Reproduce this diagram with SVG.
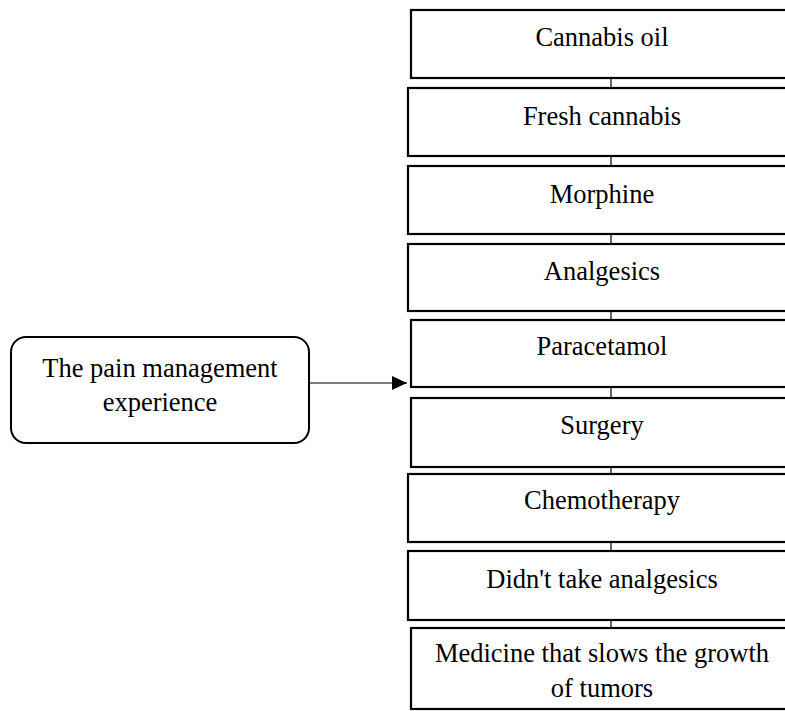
<svg xmlns="http://www.w3.org/2000/svg" width="785" height="711" viewBox="0 0 785 711">
  <defs>
    <style>
      .box { fill: #ffffff; stroke: #000000; stroke-width: 2.2; }
      .start { fill: #ffffff; stroke: #000000; stroke-width: 2; }
      .lbl { font-family: "Liberation Serif", "Times New Roman", serif; font-size: 26.5px; fill: #000000; text-anchor: middle; }
      .conn { stroke: #000000; stroke-width: 1.2; fill: none; }
    </style>
    <marker id="arrow" markerWidth="15" markerHeight="14" refX="15" refY="7" orient="auto" markerUnits="userSpaceOnUse">
      <path d="M0,0 L15,7 L0,14 Z" fill="#000000"/>
    </marker>
  </defs>
  <rect width="785" height="711" fill="#ffffff"/>

  <g id="connectors">
    <line class="conn" x1="611" y1="78" x2="611" y2="88"/>
    <line class="conn" x1="611" y1="156" x2="611" y2="166"/>
    <line class="conn" x1="611" y1="234" x2="611" y2="244"/>
    <line class="conn" x1="611" y1="311" x2="611" y2="320"/>
    <line class="conn" x1="611" y1="387" x2="611" y2="398"/>
    <line class="conn" x1="611" y1="467" x2="611" y2="474"/>
    <line class="conn" x1="611" y1="542" x2="611" y2="551"/>
    <line class="conn" x1="611" y1="620" x2="611" y2="628"/>
    <line class="conn" x1="310" y1="383" x2="407" y2="383" marker-end="url(#arrow)"/>
  </g>

  <g id="node-start">
    <rect class="start" x="11" y="337" width="298" height="106" rx="15" ry="15"/>
    <text class="lbl" x="160" y="377">The pain management</text>
    <text class="lbl" x="160" y="411">experience</text>
  </g>

  <g id="node-cannabis-oil">
    <rect class="box" x="411" y="10" width="385" height="68"/>
    <text class="lbl" x="602" y="46">Cannabis oil</text>
  </g>
  <g id="node-fresh-cannabis">
    <rect class="box" x="408" y="88" width="388" height="68"/>
    <text class="lbl" x="602" y="125">Fresh cannabis</text>
  </g>
  <g id="node-morphine">
    <rect class="box" x="408" y="166" width="388" height="68"/>
    <text class="lbl" x="602" y="203">Morphine</text>
  </g>
  <g id="node-analgesics">
    <rect class="box" x="408" y="244" width="388" height="67"/>
    <text class="lbl" x="602" y="280">Analgesics</text>
  </g>
  <g id="node-paracetamol">
    <rect class="box" x="411" y="320" width="385" height="67"/>
    <text class="lbl" x="602" y="355">Paracetamol</text>
  </g>
  <g id="node-surgery">
    <rect class="box" x="411" y="398" width="385" height="69"/>
    <text class="lbl" x="602" y="434">Surgery</text>
  </g>
  <g id="node-chemotherapy">
    <rect class="box" x="408" y="474" width="388" height="68"/>
    <text class="lbl" x="602" y="509">Chemotherapy</text>
  </g>
  <g id="node-no-analgesics">
    <rect class="box" x="408" y="551" width="388" height="69"/>
    <text class="lbl" x="602" y="588">Didn't take analgesics</text>
  </g>
  <g id="node-tumor-medicine">
    <rect class="box" x="411" y="628" width="385" height="81"/>
    <text class="lbl" x="602" y="662">Medicine that slows the growth</text>
    <text class="lbl" x="602" y="697">of tumors</text>
  </g>
</svg>
